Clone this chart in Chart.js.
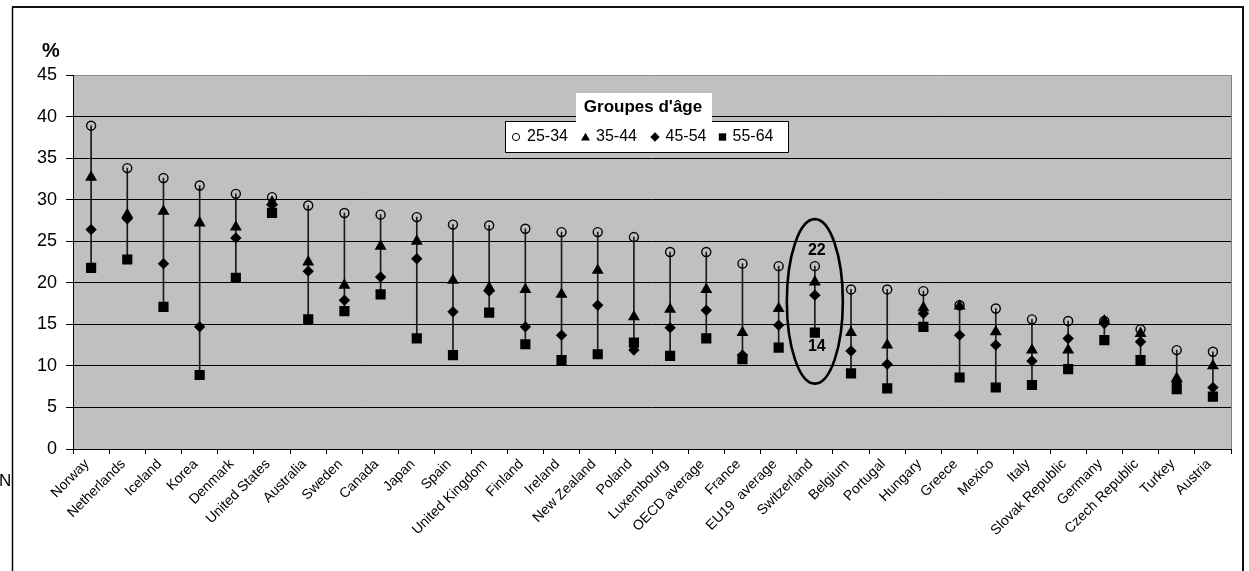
<!DOCTYPE html>
<html>
<head>
<meta charset="utf-8">
<script src="https://cdn.jsdelivr.net/npm/chart.js@4/dist/chart.umd.min.js"></script>
<style>
  html, body { margin: 0; padding: 0; background: #fff; }
  #wrap { width: 1249px; height: 571px; position: relative; }
</style>
</head>
<body>
<div id="wrap"><canvas id="c" width="1249" height="571"></canvas></div>
<script>
// Countries, ordered by the 25-34 share
const countries = [
  'Norway', 'Netherlands', 'Iceland', 'Korea', 'Denmark', 'United States',
  'Australia', 'Sweden', 'Canada', 'Japan', 'Spain', 'United Kingdom',
  'Finland', 'Ireland', 'New Zealand', 'Poland', 'Luxembourg', 'OECD average',
  'France', 'EU19  average', 'Switzerland', 'Belgium', 'Portugal', 'Hungary',
  'Greece', 'Mexico', 'Italy', 'Slovak Republic', 'Germany', 'Czech Republic',
  'Turkey', 'Austria'
];

// Share (%) by age group
const age2534 = [38.9, 33.8, 32.6, 31.7, 30.7, 30.3, 29.3, 28.4, 28.2, 27.9, 27.0, 26.9,
                 26.5, 26.1, 26.1, 25.5, 23.7, 23.7, 22.3, 22.0, 22.0, 19.2, 19.2, 19.0,
                 17.3, 16.9, 15.6, 15.4, 15.4, 14.4, 11.9, 11.7];
const age3544 = [32.7, 28.2, 28.6, 27.2, 26.7, 29.7, 22.5, 19.7, 24.4, 25.0, 20.3, 19.4,
                 19.2, 18.6, 21.5, 15.9, 16.8, 19.2, 14.0, 16.9, 20.1, 14.0, 12.5, 17.0,
                 17.2, 14.1, 11.9, 11.9, 15.4, 13.9, 8.5, 10.0];
const age4554 = [26.4, 27.7, 22.3, 14.7, 25.4, 29.4, 21.4, 17.9, 20.7, 22.9, 16.5, 19.0,
                 14.7, 13.7, 17.3, 11.9, 14.6, 16.7, 11.3, 14.9, 18.5, 11.8, 10.2, 16.3,
                 13.7, 12.5, 10.6, 13.3, 15.1, 12.9, 8.0, 7.4];
const age5564 = [21.8, 22.8, 17.1, 8.9, 20.6, 28.4, 15.6, 16.6, 18.6, 13.3, 11.3, 16.4,
                 12.6, 10.7, 11.4, 12.8, 11.2, 13.3, 10.8, 12.2, 14.0, 9.1, 7.3, 14.7,
                 8.6, 7.4, 7.7, 9.6, 13.1, 10.7, 7.2, 6.3];

// Age-group names for the legend
const groupLabels = ['25-34', '35-44', '45-54', '55-64'];
// Y axis ticks
const yTicks = [0, 5, 10, 15, 20, 25, 30, 35, 40, 45];
// Highlighted country
const highlight = 'Switzerland';

const FONT = '"Liberation Sans", Arial, Helvetica, sans-serif';

// Vertical range bars: lowest to highest value per country
const ranges = countries.map((_, i) => {
  const v = [age2534[i], age3544[i], age4554[i], age5564[i]];
  return [Math.min(...v), Math.max(...v)];
});

const markerStyles = [
  { pointStyle: 'circle',   radius: 4.5, fill: 'rgba(0,0,0,0)', border: 1.4 },
  { pointStyle: 'triangle', radius: 6.9, fill: '#000', border: 0 },
  { pointStyle: 'rectRot',  radius: 5.7, fill: '#000', border: 0 },
  { pointStyle: 'rect',     radius: 7.2, fill: '#000', border: 0 }
];
const series = [age2534, age3544, age4554, age5564];

const pointDatasets = series.map((arr, k) => ({
  type: 'line',
  label: groupLabels[k],
  data: arr,
  showLine: false,
  pointStyle: markerStyles[k].pointStyle,
  pointRadius: markerStyles[k].radius,
  pointHoverRadius: markerStyles[k].radius,
  pointBackgroundColor: markerStyles[k].fill,
  pointBorderColor: '#000',
  pointBorderWidth: markerStyles[k].border,
  order: 4 - k
}));

// Grey plot background, frame and outer border
const backdrop = {
  id: 'backdrop',
  beforeDraw(chart) {
    const { ctx, chartArea: a } = chart;
    ctx.save();
    ctx.fillStyle = '#fff';
    ctx.fillRect(0, 0, chart.width, chart.height);
    ctx.fillStyle = '#c0c0c0';
    ctx.fillRect(a.left, a.top, a.right - a.left, a.bottom - a.top);
    ctx.restore();
  },
  afterDraw(chart) {
    const { ctx, chartArea: a } = chart;
    ctx.save();
    // plot area right edge
    ctx.strokeStyle = '#808080';
    ctx.lineWidth = 1;
    ctx.beginPath();
    ctx.moveTo(a.right + 0.5, a.top);
    ctx.lineTo(a.right + 0.5, a.bottom);
    ctx.stroke();
    // outer frame
    ctx.strokeStyle = '#000';
    ctx.lineWidth = 1.5;
    ctx.beginPath();
    ctx.moveTo(12.5, chart.height);
    ctx.lineTo(12.5, 7);
    ctx.stroke();
    ctx.lineWidth = 2;
    ctx.beginPath();
    ctx.moveTo(12, 7);
    ctx.lineTo(1243, 7);
    ctx.lineTo(1243, chart.height);
    ctx.strokeStyle = '#111';
    ctx.stroke();
    // unit label
    ctx.fillStyle = '#000';
    ctx.font = 'bold 20px ' + FONT;
    ctx.textAlign = 'center';
    ctx.textBaseline = 'middle';
    ctx.fillText('%', 51, 51);
    // stray text fragment at far left
    ctx.font = '17px ' + FONT;
    ctx.textAlign = 'left';
    ctx.fillText('N', -1, 481);
    ctx.restore();
  }
};

// Legend box with title, ellipse and labels for the highlighted country
const overlay = {
  id: 'overlay',
  afterDatasetsDraw(chart) {
    const { ctx } = chart;
    const xs = chart.scales.x, ys = chart.scales.y;
    ctx.save();

    // legend
    ctx.fillStyle = '#fff';
    ctx.fillRect(576, 93, 136, 28);
    ctx.fillRect(506, 121, 282, 31);
    ctx.strokeStyle = '#000';
    ctx.lineWidth = 1;
    ctx.beginPath();
    ctx.moveTo(576, 121.5);
    ctx.lineTo(505.5, 121.5);
    ctx.lineTo(505.5, 152.5);
    ctx.lineTo(788.5, 152.5);
    ctx.lineTo(788.5, 121.5);
    ctx.lineTo(712, 121.5);
    ctx.stroke();

    ctx.fillStyle = '#000';
    ctx.font = 'bold 17px ' + FONT;
    ctx.textAlign = 'center';
    ctx.textBaseline = 'middle';
    ctx.fillText("Groupes d'âge", 643, 107);

    const legendItems = [
      { mx: 516, tx: 527, style: { pointStyle: 'circle', radius: 3.6, borderWidth: 1 }, fill: 'rgba(0,0,0,0)' },
      { mx: 585.5, tx: 596, style: { pointStyle: 'triangle', radius: 5.2, borderWidth: 0 }, fill: '#000' },
      { mx: 655, tx: 665.5, style: { pointStyle: 'rectRot', radius: 4.7, borderWidth: 0 }, fill: '#000' },
      { mx: 722.5, tx: 732.5, style: { pointStyle: 'rect', radius: 5.2, borderWidth: 0 }, fill: '#000' }
    ];
    ctx.font = '16px ' + FONT;
    ctx.textAlign = 'left';
    legendItems.forEach((it, k) => {
      ctx.save();
      ctx.fillStyle = it.fill;
      ctx.strokeStyle = '#000';
      ctx.lineWidth = it.style.borderWidth || 1;
      Chart.helpers.drawPoint(ctx, { ...it.style, rotation: 0 }, it.mx, k === 1 ? 138 : 137);
      ctx.restore();
      ctx.fillStyle = '#000';
      ctx.fillText(groupLabels[k], it.tx, 137);
    });

    // highlighted country
    const i = countries.indexOf(highlight);
    const cx = xs.getPixelForValue(i);
    const hi = age2534[i], lo = age5564[i];
    const yHi = ys.getPixelForValue(hi), yLo = ys.getPixelForValue(lo);
    const top = yHi - 47, bottom = yLo + 51;
    ctx.strokeStyle = '#000';
    ctx.lineWidth = 2.6;
    ctx.beginPath();
    ctx.ellipse(cx, (top + bottom) / 2, 28, (bottom - top) / 2, 0, 0, Math.PI * 2);
    ctx.stroke();

    ctx.fillStyle = '#000';
    ctx.font = 'bold 16px ' + FONT;
    ctx.textAlign = 'center';
    ctx.textBaseline = 'middle';
    ctx.fillText(String(Math.round(hi)), cx + 2, yHi - 16);
    ctx.fillText(String(Math.round(lo)), cx + 2, yLo + 13.5);
    ctx.restore();
  }
};

new Chart(document.getElementById('c'), {
  type: 'bar',
  data: {
    labels: countries,
    datasets: [
      {
        type: 'bar',
        label: 'range',
        data: ranges,
        backgroundColor: '#1a1a1a',
        borderWidth: 0,
        barThickness: 1,
        order: 10
      },
      ...pointDatasets
    ]
  },
  options: {
    responsive: false,
    animation: false,
    devicePixelRatio: 1,
    layout: { padding: { left: 0, top: 75, right: 18, bottom: 0 } },
    plugins: { legend: { display: false }, tooltip: { enabled: false } },
    scales: {
      x: {
        grid: { offset: true, drawOnChartArea: false, tickLength: 5, color: '#000' },
        border: { color: '#000', width: 1 },
        ticks: {
          autoSkip: false,
          minRotation: 45,
          maxRotation: 45,
          color: '#000',
          padding: 2,
          labelOffset: -4,
          font: { family: FONT, size: 14 }
        },
        afterFit(s) { s.height = 122; }
      },
      y: {
        min: 0,
        max: 45,
        afterBuildTicks(s) { s.ticks = yTicks.map(v => ({ value: v })); },
        grid: {
          color: c => (c.tick && c.tick.value === 45 ? '#8c8c8c' : '#000'),
          tickColor: '#000',
          tickLength: 7,
          lineWidth: 1
        },
        border: { color: '#000', width: 1 },
        ticks: {
          color: '#000',
          padding: 9,
          font: { family: FONT, size: 18 }
        },
        afterFit(s) { s.width = 73; }
      }
    }
  },
  plugins: [backdrop, overlay]
});
</script>
</body>
</html>
